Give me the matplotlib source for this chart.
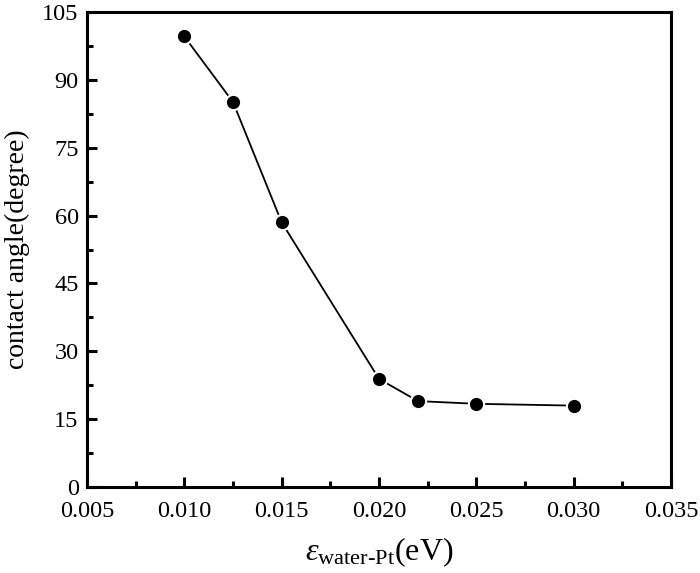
import numpy as np
import matplotlib.pyplot as plt

plt.rcParams['font.family'] = 'Liberation Serif'
plt.rcParams['mathtext.fontset'] = 'custom'
plt.rcParams['mathtext.rm'] = 'Liberation Serif'
plt.rcParams['mathtext.it'] = 'Liberation Serif:italic'

eps = [0.010, 0.0125, 0.015, 0.020, 0.022, 0.025, 0.030]
angle = [99.6, 85.1, 58.5, 23.9, 19.0, 18.4, 18.0]

fig = plt.figure(figsize=(7, 5.73), dpi=100)
ax = fig.add_axes([0.1243, 0.150, 0.8343, 0.829])

ax.plot(eps, angle, '-o', color='black', lw=1.3, ms=11,
        mfc='black', mec='white', mew=1.5)

ax.set_xlim(0.005, 0.035)
ax.set_ylim(0, 105)
ax.set_xticks(np.arange(0.005, 0.0351, 0.005))
ax.set_xticklabels(['0.005', '0.010', '0.015', '0.020', '0.025', '0.030', '0.035'])
ax.set_yticks(np.arange(0, 106, 15))
ax.set_xticks(np.arange(0.0075, 0.035, 0.005), minor=True)
ax.set_yticks(np.arange(7.5, 105, 15), minor=True)

for s in ax.spines.values():
    s.set_linewidth(2.2)
ax.tick_params(which='major', direction='in', length=7.5, width=2.2, labelsize=17.5)
ax.tick_params(axis='x', which='major', pad=10)
ax.tick_params(axis='y', which='major', pad=6)
ax.tick_params(which='minor', direction='in', length=4, width=2.2)

ax.set_ylabel('contact angle(degree)', fontsize=20, labelpad=9)
ax.set_xlabel(r'$\varepsilon_{\mathrm{water}\text{-}\mathrm{Pt}}$(eV)', fontsize=23, labelpad=10)

fig.savefig('out.png', dpi=100)
